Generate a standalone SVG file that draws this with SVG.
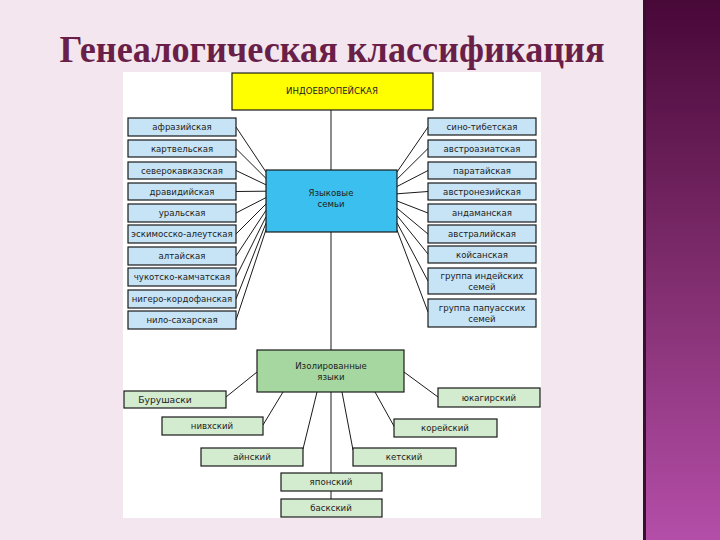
<svg xmlns="http://www.w3.org/2000/svg" width="720" height="540" viewBox="0 0 720 540">
<defs>
<linearGradient id="strip" x1="0" y1="0" x2="0" y2="1">
<stop offset="0" stop-color="#480838"/>
<stop offset="0.5" stop-color="#7e2c6c"/>
<stop offset="1" stop-color="#b44ea8"/>
</linearGradient>
<style>
.t{font-family:"DejaVu Sans","Verdana",sans-serif;font-size:8.6px;fill:#222;text-anchor:middle}
.fam rect{fill:#c6e4f6;stroke:#1a1a1a;stroke-width:1.2}
.iso rect{fill:#d3ebcf;stroke:#1a1a1a;stroke-width:1.2}
.con line{stroke:#1a1a1a;stroke-width:1}
</style>
</defs>
<rect width="720" height="540" fill="#f3e6ee"/>
<rect x="643" y="0" width="77" height="540" fill="url(#strip)"/>
<rect x="643" y="0" width="3" height="540" fill="#3a0e30"/>
<text x="332" y="62" font-family="Liberation Serif,serif" font-weight="bold" font-size="38" fill="#6a1f48" text-anchor="middle" textLength="545" lengthAdjust="spacingAndGlyphs">Генеалогическая классификация</text>
<rect x="123" y="72" width="418" height="446" fill="#ffffff"/>

<g class="con">
<line x1="331" y1="110" x2="331" y2="170"/>
<line x1="331" y1="232" x2="331" y2="350"/>
<line x1="331" y1="392" x2="331" y2="473"/>
<line x1="331" y1="491" x2="331" y2="499"/>
<line x1="236" y1="127" x2="266" y2="172"/>
<line x1="236" y1="148.5" x2="266" y2="178.4"/>
<line x1="236" y1="170.5" x2="266" y2="184.8"/>
<line x1="236" y1="191.5" x2="266" y2="191.2"/>
<line x1="236" y1="213" x2="266" y2="197.6"/>
<line x1="236" y1="234" x2="266" y2="204"/>
<line x1="236" y1="256" x2="266" y2="210.4"/>
<line x1="236" y1="277" x2="266" y2="216.8"/>
<line x1="236" y1="299" x2="266" y2="223.2"/>
<line x1="236" y1="320" x2="266" y2="229.6"/>
<line x1="397" y1="172" x2="428" y2="127"/>
<line x1="397" y1="179.2" x2="428" y2="148.5"/>
<line x1="397" y1="186.5" x2="428" y2="170.5"/>
<line x1="397" y1="193.8" x2="428" y2="191.5"/>
<line x1="397" y1="201" x2="428" y2="213"/>
<line x1="397" y1="208.2" x2="428" y2="234"/>
<line x1="397" y1="215.5" x2="428" y2="254"/>
<line x1="397" y1="222.8" x2="428" y2="281"/>
<line x1="397" y1="230" x2="428" y2="312"/>
<line x1="257" y1="372" x2="226" y2="397"/>
<line x1="283" y1="392" x2="263" y2="425"/>
<line x1="317" y1="392" x2="303" y2="449"/>
<line x1="404" y1="372" x2="438" y2="397"/>
<line x1="375" y1="392" x2="395" y2="428"/>
<line x1="342" y1="392" x2="353" y2="450"/>
</g>

<g id="indo">
<rect x="232" y="73" width="201" height="37" fill="#ffff00" stroke="#1a1a1a" stroke-width="1.2"/>
<text class="t" x="332" y="94">ИНДОЕВРОПЕЙСКАЯ</text>
</g>
<g id="families">
<rect x="266" y="170" width="131" height="62" fill="#3bbfee" stroke="#1a1a1a" stroke-width="1.2"/>
<text class="t" x="331" y="196">Языковые</text>
<text class="t" x="331" y="207">семьи</text>
</g>
<g id="isolated">
<rect x="257" y="350" width="147" height="42" fill="#a6d7a0" stroke="#1a1a1a" stroke-width="1.2"/>
<text class="t" x="331" y="369">Изолированные</text>
<text class="t" x="331" y="380">языки</text>
</g>

<g id="afr" class="fam"><rect x="128" y="118" width="108" height="18"/><text class="t" x="182" y="130">афразийская</text></g>
<g id="kart" class="fam"><rect x="128" y="140" width="108" height="17"/><text class="t" x="182" y="151.5">картвельская</text></g>
<g id="sevk" class="fam"><rect x="128" y="162" width="108" height="17"/><text class="t" x="182" y="173.5">северокавказская</text></g>
<g id="drav" class="fam"><rect x="128" y="183" width="108" height="17"/><text class="t" x="182" y="194.5">дравидийская</text></g>
<g id="ural" class="fam"><rect x="128" y="204" width="108" height="18"/><text class="t" x="182" y="216">уральская</text></g>
<g id="eskm" class="fam"><rect x="128" y="225" width="108" height="18"/><text class="t" x="182" y="237">эскимосско-алеутская</text></g>
<g id="alt" class="fam"><rect x="128" y="247" width="108" height="18"/><text class="t" x="182" y="259">алтайская</text></g>
<g id="chuk" class="fam"><rect x="128" y="268" width="108" height="18"/><text class="t" x="182" y="280">чукотско-камчатская</text></g>
<g id="nig" class="fam"><rect x="128" y="290" width="108" height="18"/><text class="t" x="182" y="302">нигеро-кордофанская</text></g>
<g id="nil" class="fam"><rect x="128" y="311" width="108" height="18"/><text class="t" x="182" y="323">нило-сахарская</text></g>

<g id="sino" class="fam"><rect x="428" y="118" width="108" height="17"/><text class="t" x="482" y="129.5">сино-тибетская</text></g>
<g id="avas" class="fam"><rect x="428" y="140" width="108" height="17"/><text class="t" x="482" y="151.5">австроазиатская</text></g>
<g id="parat" class="fam"><rect x="428" y="162" width="108" height="17"/><text class="t" x="482" y="173.5">паратайская</text></g>
<g id="avnz" class="fam"><rect x="428" y="183" width="108" height="17"/><text class="t" x="482" y="194.5">австронезийская</text></g>
<g id="and" class="fam"><rect x="428" y="204" width="108" height="18"/><text class="t" x="482" y="216">андаманская</text></g>
<g id="avst" class="fam"><rect x="428" y="225" width="108" height="18"/><text class="t" x="482" y="237">австралийская</text></g>
<g id="koi" class="fam"><rect x="428" y="246" width="108" height="17"/><text class="t" x="482" y="257.5">койсанская</text></g>
<g id="ind" class="fam"><rect x="428" y="268" width="108" height="26"/><text class="t" x="482" y="279">группа индейских</text><text class="t" x="482" y="290">семей</text></g>
<g id="pap" class="fam"><rect x="428" y="299" width="108" height="28"/><text class="t" x="482" y="311">группа папуасских</text><text class="t" x="482" y="322">семей</text></g>

<g id="bur" class="iso"><rect x="124" y="391" width="102" height="17"/><text class="t" x="165" y="402.5" style="font-size:9.2px">Бурушаски</text></g>
<g id="niv" class="iso"><rect x="162" y="417" width="101" height="18"/><text class="t" x="212" y="429">нивхский</text></g>
<g id="ain" class="iso"><rect x="201" y="448" width="102" height="18"/><text class="t" x="252" y="460">айнский</text></g>
<g id="yuk" class="iso"><rect x="438" y="388" width="102" height="19"/><text class="t" x="489" y="400.5">юкагирский</text></g>
<g id="kor" class="iso"><rect x="394" y="419" width="103" height="18"/><text class="t" x="445" y="431">корейский</text></g>
<g id="ket" class="iso"><rect x="353" y="448" width="103" height="18"/><text class="t" x="404" y="460">кетский</text></g>
<g id="yap" class="iso"><rect x="281" y="473" width="101" height="18"/><text class="t" x="331" y="485">японский</text></g>
<g id="bask" class="iso"><rect x="281" y="499" width="101" height="18"/><text class="t" x="331" y="511">баскский</text></g>
</svg>
